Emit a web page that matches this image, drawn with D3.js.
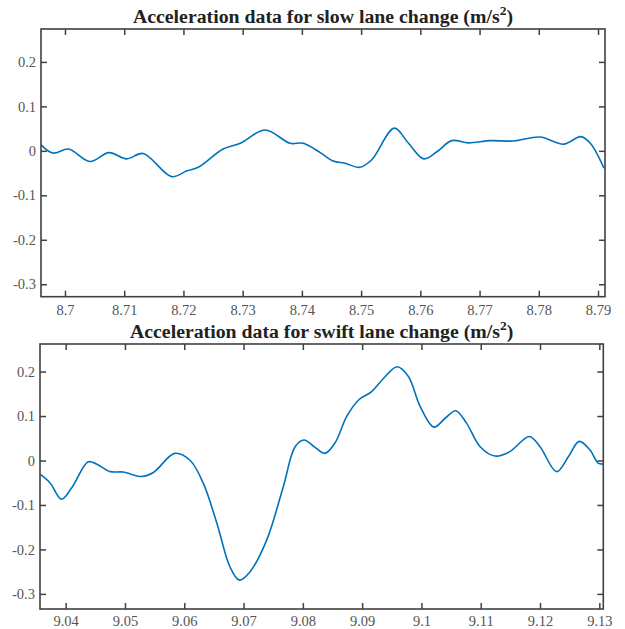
<!DOCTYPE html>
<html>
<head>
<meta charset="utf-8">
<script src="https://cdn.jsdelivr.net/npm/d3@7"></script>
<style>
  html, body { margin: 0; padding: 0; background: #fff; }
  svg { display: block; }
  text { font-family: "Liberation Serif", "Times New Roman", serif; }
</style>
</head>
<body>
<svg id="chart" width="625" height="629"></svg>
<script>
// ---- Data ----
const slowTime = [8.6960, 8.6980, 8.7006, 8.7042, 8.7074, 8.7104, 8.7132, 8.7180, 8.7206, 8.7225,
  8.7267, 8.7296, 8.7338, 8.7380, 8.7402, 8.7431, 8.7453, 8.7473, 8.7498, 8.7518,
  8.7556, 8.7580, 8.7606, 8.7628, 8.7653, 8.7681, 8.7718, 8.7757, 8.7802, 8.7842,
  8.7871, 8.7887, 8.7910];
const slowAccel = [0.013, -0.005, 0.004, -0.024, -0.004, -0.018, -0.006, -0.058, -0.045, -0.037,
  0.004, 0.017, 0.047, 0.017, 0.017, -0.004, -0.023, -0.028, -0.037, -0.020,
  0.051, 0.017, -0.018, -0.002, 0.023, 0.018, 0.023, 0.022, 0.031, 0.015,
  0.032, 0.017, -0.039];

const swiftTime = [9.0358, 9.0374, 9.0393, 9.0410, 9.0438, 9.0452, 9.0475, 9.0497, 9.0528, 9.0548,
  9.0584, 9.0610, 9.0632, 9.0655, 9.0677, 9.0693, 9.0711, 9.0739, 9.0767, 9.0787,
  9.0802, 9.0820, 9.0837, 9.0854, 9.0874, 9.0894, 9.0916, 9.0939, 9.0959, 9.0978,
  9.0998, 9.1021, 9.1040, 9.1058, 9.1076, 9.1099, 9.1124, 9.1149, 9.1182, 9.1200,
  9.1228, 9.1248, 9.1266, 9.1284, 9.1298, 9.1306];
const swiftAccel = [-0.032, -0.051, -0.087, -0.062, -0.003, -0.008, -0.025, -0.026, -0.036, -0.027,
  0.016, 0.000, -0.051, -0.141, -0.239, -0.269, -0.250, -0.179, -0.059, 0.031,
  0.046, 0.030, 0.016, 0.039, 0.099, 0.136, 0.155, 0.189, 0.211, 0.189,
  0.121, 0.075, 0.095, 0.112, 0.084, 0.031, 0.010, 0.020, 0.054, 0.031,
  -0.025, 0.009, 0.043, 0.024, -0.006, -0.008];

const slowXTicks = [8.70, 8.71, 8.72, 8.73, 8.74, 8.75, 8.76, 8.77, 8.78, 8.79];
const slowXLabels = ["8.7", "8.71", "8.72", "8.73", "8.74", "8.75", "8.76", "8.77", "8.78", "8.79"];
const swiftXTicks = [9.04, 9.05, 9.06, 9.07, 9.08, 9.09, 9.10, 9.11, 9.12, 9.13];
const swiftXLabels = ["9.04", "9.05", "9.06", "9.07", "9.08", "9.09", "9.1", "9.11", "9.12", "9.13"];
const yTicks = [-0.3, -0.2, -0.1, 0, 0.1, 0.2];
const yLabels = ["-0.3", "-0.2", "-0.1", "0", "0.1", "0.2"];
const titles = ["Acceleration data for slow lane change (m/s", "Acceleration data for swift lane change (m/s"];

// ---- Layout ----
const panels = [
  { left: 41, right: 605, top: 29, bottom: 296.7, xDomain: [8.69595, 8.79118], yDomain: [-0.328, 0.274],
    time: slowTime, accel: slowAccel, xTicks: slowXTicks, xLabels: slowXLabels, title: titles[0], pad: 8 },
  { left: 40, right: 603.3, top: 344, bottom: 609, xDomain: [9.03567, 9.13067], yDomain: [-0.334, 0.262],
    time: swiftTime, accel: swiftAccel, xTicks: swiftXTicks, xLabels: swiftXLabels, title: titles[1], pad: 7 }
];

const svg = d3.select("#chart");
const frameColor = "#404040";
const labelColor = "#555555";
const fontFam = '"Liberation Serif", "Times New Roman", serif';

panels.forEach((p, i) => {
  const x = d3.scaleLinear().domain(p.xDomain).range([p.left, p.right]);
  const y = d3.scaleLinear().domain(p.yDomain).range([p.bottom, p.top]);
  const g = svg.append("g");

  const clipId = "clip" + i;
  svg.append("defs").append("clipPath").attr("id", clipId)
    .append("rect").attr("x", p.left).attr("y", p.top)
    .attr("width", p.right - p.left).attr("height", p.bottom - p.top);

  // line
  const pts = p.time.map((t, k) => [t, p.accel[k]]);
  g.append("path")
    .datum(pts)
    .attr("clip-path", `url(#${clipId})`)
    .attr("fill", "none")
    .attr("stroke", "#0072BD")
    .attr("stroke-width", 1.6)
    .attr("d", d3.line().x(d => x(d[0])).y(d => y(d[1])).curve(d3.curveCatmullRom.alpha(0.5)));

  const styleAxis = (sel, showLabels) => {
    sel.attr("font-family", fontFam).attr("font-size", 14.5);
    sel.select(".domain").remove();
    sel.selectAll(".tick line").attr("stroke", frameColor).attr("stroke-width", 1.5);
    sel.selectAll(".tick text")
      .attr("fill", labelColor)
      .style("font-family", fontFam)
      .style("font-size", "14.5px");
    if (!showLabels) sel.selectAll(".tick text").remove();
  };

  // bottom axis with labels
  g.append("g").attr("transform", `translate(0,${p.bottom})`)
    .call(d3.axisBottom(x).tickValues(p.xTicks).tickSize(-6).tickPadding(p.pad)
      .tickFormat((d, k) => p.xLabels[k]))
    .call(s => styleAxis(s, true));
  // top axis (ticks only)
  g.append("g").attr("transform", `translate(0,${p.top})`)
    .call(d3.axisTop(x).tickValues(p.xTicks).tickSize(-6))
    .call(s => styleAxis(s, false));
  // left axis with labels
  g.append("g").attr("transform", `translate(${p.left},0)`)
    .call(d3.axisLeft(y).tickValues(yTicks).tickSize(-6).tickPadding(5)
      .tickFormat((d, k) => yLabels[k]))
    .call(s => styleAxis(s, true));
  // right axis (ticks only)
  g.append("g").attr("transform", `translate(${p.right},0)`)
    .call(d3.axisRight(y).tickValues(yTicks).tickSize(-6))
    .call(s => styleAxis(s, false));

  // frame
  g.append("rect")
    .attr("x", p.left).attr("y", p.top)
    .attr("width", p.right - p.left).attr("height", p.bottom - p.top)
    .attr("fill", "none").attr("stroke", frameColor).attr("stroke-width", 1.6);

  // title
  const t = g.append("text")
    .attr("x", (p.left + p.right) / 2)
    .attr("y", p.top - 6)
    .attr("text-anchor", "middle")
    .style("font-family", fontFam)
    .style("font-weight", "bold")
    .style("font-size", "19.8px")
    .attr("fill", "#222");
  t.append("tspan").text(p.title);
  t.append("tspan").attr("dy", -8).style("font-size", "13.5px").text("2");
  t.append("tspan").attr("dy", 8).text(")");
});
</script>
</body>
</html>
